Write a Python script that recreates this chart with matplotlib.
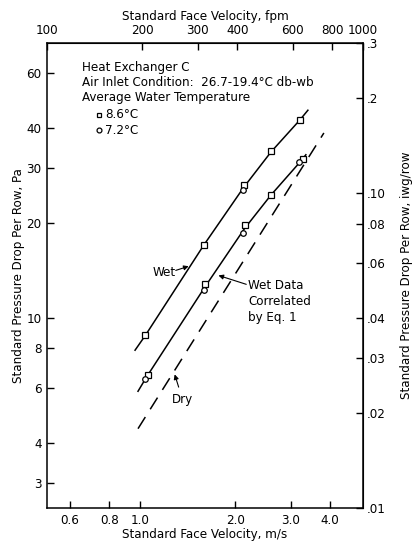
import matplotlib
matplotlib.use("Agg")
import matplotlib.pyplot as plt
from matplotlib.ticker import FixedLocator, FixedFormatter, NullLocator

plt.rcParams['font.family'] = ['DejaVu Sans']
plt.rcParams['font.stretch'] = 'condensed'

# --- data ---
# Upper "Wet" curve, 8.6 C squares and 7.2 C circles
wet_sq_v = [1.04, 1.59, 2.14, 2.60, 3.21]
wet_sq_p = [8.8, 17.0, 26.4, 33.8, 42.6]
wet_ci_v = [2.12]
wet_ci_p = [25.5]
wet_line_v = [0.965, 1.04, 1.59, 2.13, 2.60, 3.21, 3.40]
wet_line_p = [7.9, 8.8, 17.0, 26.0, 33.7, 42.6, 45.7]

# Lower "Wet Data Correlated by Eq. 1" curve
cor_sq_v = [1.06, 1.61, 2.15, 2.60, 3.28]
cor_sq_p = [6.6, 12.8, 19.8, 24.6, 31.9]
cor_ci_v = [1.04, 1.60, 2.12, 3.19]
cor_ci_p = [6.4, 12.3, 18.6, 31.2]
cor_line_v = [0.986, 1.05, 1.61, 2.14, 2.60, 3.23, 3.35]
cor_line_p = [5.85, 6.5, 12.6, 19.2, 24.6, 31.5, 33.0]

# Dry line (dashed)
dry_line_v = [0.986, 3.82]
dry_line_p = [4.45, 38.7]

# axis ticks
x_ticks = [0.6, 0.8, 1.0, 2.0, 3.0, 4.0]
x_labels = ["0.6", "0.8", "1.0", "2.0", "3.0", "4.0"]
fpm_ticks = [100, 200, 300, 400, 600, 800, 1000]
fpm_labels = ["100", "200", "300", "400", "600", "800", "1000"]
pa_ticks = [3, 4, 6, 8, 10, 20, 30, 40, 60]
pa_labels = ["3", "4", "6", "8", "10", "20", "30", "40", "60"]
iwg_ticks = [0.01, 0.02, 0.03, 0.04, 0.06, 0.08, 0.10, 0.2, 0.3]
iwg_labels = [".01", ".02", ".03", ".04", ".06", ".08", ".10", ".2", ".3"]

MS_TO_FPM = 196.85
PA_PER_IWG = 249.09

fig = plt.figure(figsize=(4.18, 5.44), dpi=100)
ax = fig.add_axes([47/418, 1 - 508/544, 316/418, 465/544])
ax.set_xscale('log')
ax.set_yscale('log')
ax.set_xlim(100 / MS_TO_FPM, 1000 / MS_TO_FPM)
ax.set_ylim(0.01 * PA_PER_IWG, 0.3 * PA_PER_IWG)

lw = 1.1
ax.plot(wet_line_v, wet_line_p, color='black', lw=lw)
ax.plot(cor_line_v, cor_line_p, color='black', lw=lw)
ax.plot(dry_line_v, dry_line_p, color='black', lw=lw, dashes=(9, 6))

mk = dict(linestyle='none', markerfacecolor='white', markeredgecolor='black',
          markersize=4, markeredgewidth=0.9, zorder=3)
ax.plot(wet_sq_v, wet_sq_p, marker='s', **mk)
ax.plot(wet_ci_v, wet_ci_p, marker='o', **mk)
ax.plot(cor_sq_v, cor_sq_p, marker='s', **mk)
ax.plot(cor_ci_v, cor_ci_p, marker='o', **mk)

for s in ax.spines.values():
    s.set_linewidth(1.1)

fs = 9.5
ax.xaxis.set_major_locator(FixedLocator(x_ticks))
ax.xaxis.set_major_formatter(FixedFormatter(x_labels))
ax.xaxis.set_minor_locator(NullLocator())
ax.yaxis.set_major_locator(FixedLocator(pa_ticks))
ax.yaxis.set_major_formatter(FixedFormatter(pa_labels))
ax.yaxis.set_minor_locator(NullLocator())
ax.tick_params(which='both', direction='in', length=5, width=1.0, labelsize=fs, pad=4)

ax.set_xlabel('Standard Face Velocity, m/s', fontsize=fs, labelpad=1)
ax.set_ylabel('Standard Pressure Drop Per Row, Pa', fontsize=fs, labelpad=1)

top = ax.secondary_xaxis('top', functions=(lambda v: v * MS_TO_FPM, lambda f: f / MS_TO_FPM))
top.xaxis.set_major_locator(FixedLocator(fpm_ticks))
top.xaxis.set_major_formatter(FixedFormatter(fpm_labels))
top.xaxis.set_minor_locator(NullLocator())
top.tick_params(which='both', direction='in', length=5, width=1.0, labelsize=fs, pad=4)
top.set_xlabel('Standard Face Velocity, fpm', fontsize=fs, labelpad=3)

right = ax.secondary_yaxis('right', functions=(lambda p: p / PA_PER_IWG, lambda i: i * PA_PER_IWG))
right.yaxis.set_major_locator(FixedLocator(iwg_ticks))
right.yaxis.set_major_formatter(FixedFormatter(iwg_labels))
right.yaxis.set_minor_locator(NullLocator())
right.tick_params(which='both', direction='in', length=5, width=1.0, labelsize=fs, pad=3)
right.set_ylabel('Standard Pressure Drop Per Row, iwg/row', fontsize=fs, labelpad=10)

# text block
tfs = 9.5
ax.text(0.111, 0.948, 'Heat Exchanger C', transform=ax.transAxes, fontsize=tfs, va='center')
ax.text(0.111, 0.916, 'Air Inlet Condition:  26.7-19.4°C db-wb', transform=ax.transAxes, fontsize=tfs, va='center')
ax.text(0.111, 0.882, 'Average Water Temperature', transform=ax.transAxes, fontsize=tfs, va='center')
ax.plot([0.165], [0.846], transform=ax.transAxes, marker='s', **dict(mk, markersize=3.5))
ax.plot([0.165], [0.812], transform=ax.transAxes, marker='o', **dict(mk, markersize=3.5))
ax.text(0.185, 0.846, '8.6°C', transform=ax.transAxes, fontsize=tfs, va='center')
ax.text(0.185, 0.812, '7.2°C', transform=ax.transAxes, fontsize=tfs, va='center')

arrow = dict(arrowstyle='-|>', color='black', lw=0.8, mutation_scale=7, shrinkA=0, shrinkB=0)
ax.text(1.19, 13.96, 'Wet', fontsize=tfs, ha='center', va='center')
ax.annotate('', xy=(1.426, 14.6), xytext=(1.298, 14.16), arrowprops=arrow)

ax.text(2.20, 13.3, 'Wet Data\nCorrelated\nby Eq. 1', fontsize=tfs, ha='left', va='top', linespacing=1.3)
ax.annotate('', xy=(1.772, 13.65), xytext=(2.17, 12.79), arrowprops=arrow)

ax.text(1.365, 5.52, 'Dry', fontsize=tfs, ha='center', va='center')
ax.annotate('', xy=(1.288, 6.62), xytext=(1.326, 6.03), arrowprops=arrow)

fig.savefig('out.png', dpi=100)
